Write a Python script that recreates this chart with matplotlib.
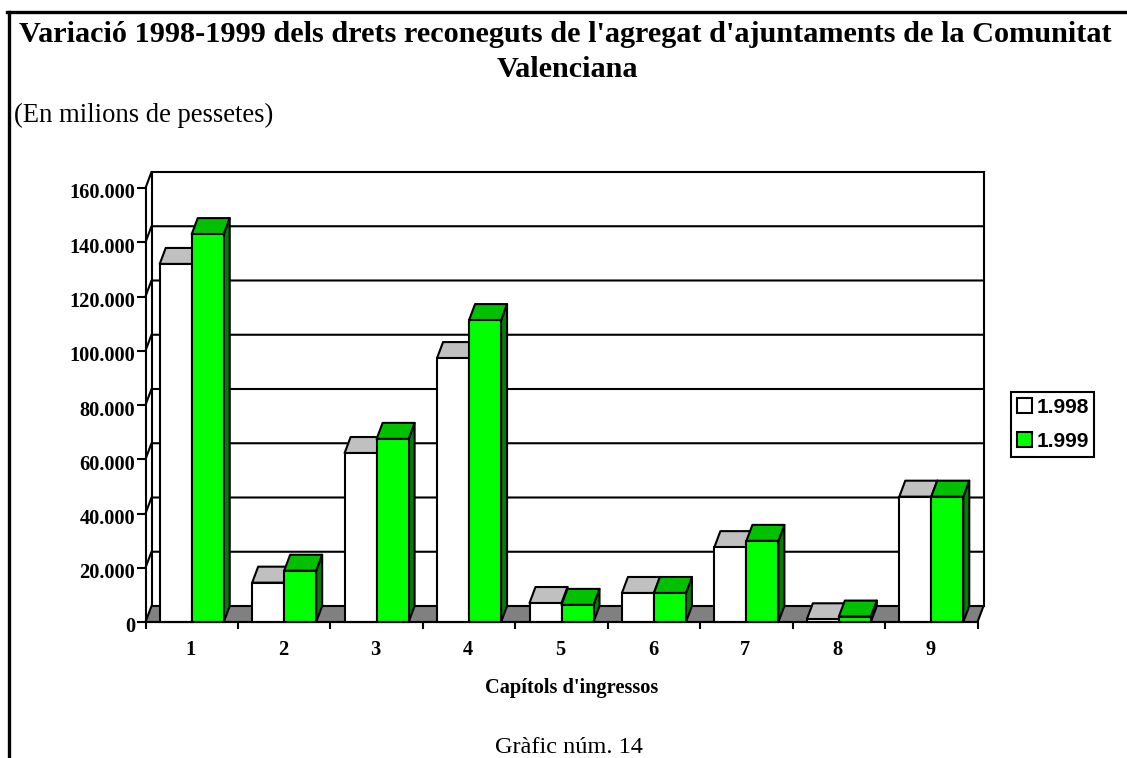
import numpy as np
import matplotlib
matplotlib.use('Agg')
import matplotlib.pyplot as plt
from matplotlib.lines import Line2D
from matplotlib.patches import Patch, Polygon
from matplotlib.transforms import ScaledTranslation

plt.rcParams['font.family'] = ['Liberation Serif', 'DejaVu Serif']

# Dades
capitols = ['1', '2', '3', '4', '5', '6', '7', '8', '9']
drets_1998 = [132000, 14500, 62300, 97300, 7000, 10700, 27600, 1000, 46200]
drets_1999 = [143000, 18900, 67500, 111300, 6300, 10700, 29900, 2000, 46200]
y_ticks = [0, 20000, 40000, 60000, 80000, 100000, 120000, 140000, 160000]
y_labels = ['0', '20.000', '40.000', '60.000', '80.000', '100.000', '120.000', '140.000', '160.000']

W, H = 1127, 758
LW = 1.5
fig = plt.figure(figsize=(W / 100, H / 100), dpi=100, facecolor='white')

# Eixos situats en pixels de la imatge
left, right, top, bottom = 145.5, 977.5, 188, 622
ax = fig.add_axes([left / W, 1 - bottom / H, (right - left) / W, (bottom - top) / H])
ax.set_xlim(0, len(capitols))
ax.set_ylim(0, 160000)
ax.patch.set_alpha(0)

# Profunditat 3D en unitats de dades
dx = 6 / (right - left) * len(capitols)
dy = 16 / (bottom - top) * 160000
bar_w = 32 / (right - left) * len(capitols)
xmax = len(capitols)


def poly(points, color, z):
    ax.add_patch(Polygon(points, closed=True, facecolor=color, edgecolor='black',
                         linewidth=LW, joinstyle='round', clip_on=False, zorder=z))


# Terra i paret del fons
poly([(0, 0), (xmax, 0), (xmax + dx, dy), (dx, dy)], '#808080', 2)
for t in y_ticks[1:]:
    ax.plot([0, dx, xmax + dx], [t, t + dy, t + dy], color='black', lw=LW, clip_on=False, zorder=1)
ax.plot([dx, dx], [dy, 160000 + dy], color='black', lw=LW, clip_on=False, zorder=1)
ax.plot([xmax + dx, xmax + dx], [dy, 160000 + dy], color='black', lw=LW, clip_on=False, zorder=1)

# Barres
z = 3
for i in range(len(capitols)):
    series = [(i + 0.5 - bar_w, drets_1998[i], 'white', '#C0C0C0', '#808080'),
              (i + 0.5, drets_1999[i], '#00FF00', '#00C000', '#008000')]
    for x0, v, front, roof, side in series:
        x1 = x0 + bar_w
        poly([(x1, 0), (x1 + dx, dy), (x1 + dx, v + dy), (x1, v)], side, z)
        poly([(x0, v), (x1, v), (x1 + dx, v + dy), (x0 + dx, v + dy)], roof, z)
        ax.bar(x0, v, width=bar_w, align='edge', color=front, edgecolor='black',
               linewidth=LW, zorder=z + 0.5, clip_on=False)
        z += 1

# Eixos
for s in ['top', 'right']:
    ax.spines[s].set_visible(False)
for s in ['left', 'bottom']:
    ax.spines[s].set_linewidth(LW)
    ax.spines[s].set_zorder(50)
ax.set_yticks(y_ticks)
ax.set_yticklabels(y_labels, fontsize=14.7, fontweight='bold')
ax.set_xticks(np.arange(len(capitols) + 1))
ax.set_xticklabels([])
ax.set_xticks(np.arange(len(capitols)) + 0.5, minor=True)
ax.set_xticklabels(capitols, minor=True, fontsize=14.7, fontweight='bold')
ax.tick_params(axis='y', length=6.5, width=LW, pad=1)
ax.tick_params(axis='x', which='major', length=5, width=LW)
ax.tick_params(axis='x', which='minor', length=0, pad=13)
# les etiquetes de l'eix y queden una mica per sota de la marca
shift = ScaledTranslation(0, -3 / 100, fig.dpi_scale_trans)
for lab in ax.get_yticklabels():
    lab.set_transform(lab.get_transform() + shift)
shift_x = ScaledTranslation(-1 / 100, 0, fig.dpi_scale_trans)
for lab in ax.get_xticklabels(minor=True):
    lab.set_transform(lab.get_transform() + shift_x)

# Llegenda
handles = [Patch(facecolor='white', edgecolor='black', linewidth=LW, label='1.998'),
           Patch(facecolor='#00FF00', edgecolor='black', linewidth=LW, label='1.999')]
leg = fig.legend(handles=handles, loc='upper left', bbox_to_anchor=(1011 / W, 1 - 392 / H),
                 bbox_transform=fig.transFigure, frameon=True, fancybox=False, edgecolor='black',
                 framealpha=1, borderaxespad=0, borderpad=0.28, handlelength=0.75, handleheight=0.75,
                 handletextpad=0.18, labelspacing=0.72,
                 prop={'family': 'Liberation Sans', 'weight': 'bold', 'size': 15})
leg.get_frame().set_linewidth(LW)

# Textos
fig.text(565.5 / W, 1 - 42 / H, "Variació 1998-1999 dels drets reconeguts de l'agregat d'ajuntaments de la Comunitat",
         ha='center', va='baseline', fontsize=21.8, fontweight='bold')
fig.text(567.5 / W, 1 - 77 / H, 'Valenciana', ha='center', va='baseline', fontsize=21.8, fontweight='bold')
fig.text(14 / W, 1 - 122 / H, '(En milions de pessetes)', ha='left', va='baseline', fontsize=19.2)
fig.text(572 / W, 1 - 692.5 / H, "Capítols d'ingressos", ha='center', va='baseline', fontsize=14.7, fontweight='bold')
fig.text(569 / W, 1 - 753 / H, 'Gràfic núm. 14', ha='center', va='baseline', fontsize=17.5)

# Marc de la pagina
fig.add_artist(Line2D([8.5 / W, 8.5 / W], [0, 1 - 11.5 / H], color='black', lw=2.4))
fig.add_artist(Line2D([7 / W, 1], [1 - 11.5 / H, 1 - 11.5 / H], color='black', lw=2.4))

fig.savefig('out.png', dpi=100)
